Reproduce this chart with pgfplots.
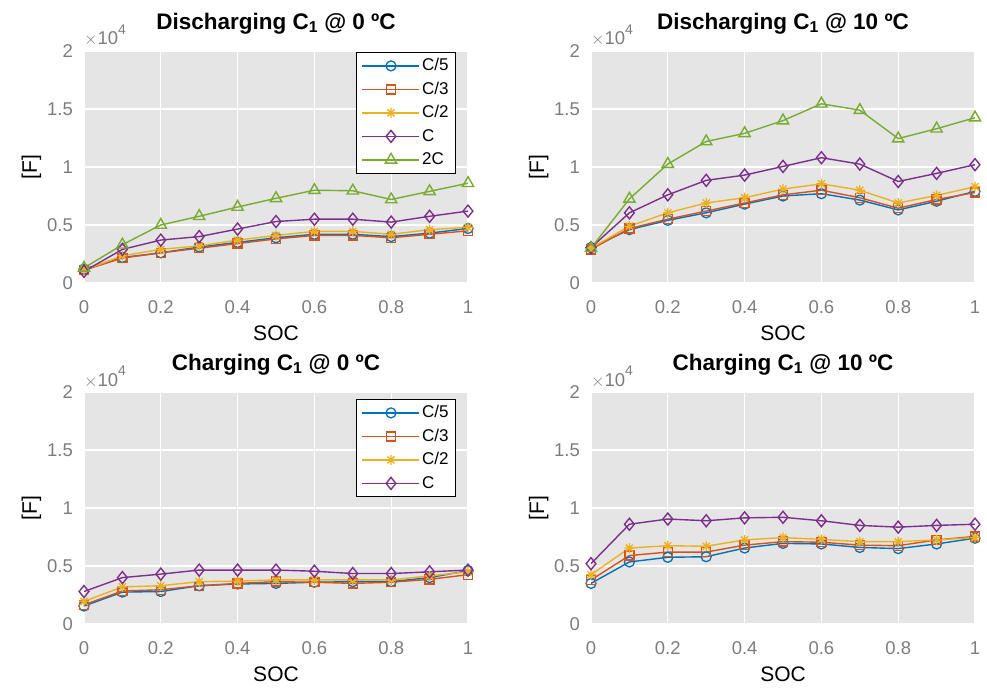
\documentclass[border=0pt]{standalone}
\usepackage{fontspec}
\setmainfont{Liberation Sans}
\usepackage{pgfplots}
\usepackage{pgfplotstable}
\pgfplotsset{compat=1.18}

\definecolor{mblue}{rgb}{0,0.447,0.741}
\definecolor{morange}{rgb}{0.850,0.325,0.098}
\definecolor{myellow}{rgb}{0.929,0.694,0.125}
\definecolor{mpurple}{rgb}{0.494,0.184,0.556}
\definecolor{mgreen}{rgb}{0.466,0.674,0.188}
\definecolor{bgc}{RGB}{229,229,229}
\definecolor{tickc}{RGB}{125,125,125}

% MATLAB-style asterisk: a plus and a cross on top of each other
\pgfdeclareplotmark{mstar}{%
  \pgfpathmoveto{\pgfqpoint{-\pgfplotmarksize}{0pt}}%
  \pgfpathlineto{\pgfqpoint{\pgfplotmarksize}{0pt}}%
  \pgfpathmoveto{\pgfqpoint{0pt}{-\pgfplotmarksize}}%
  \pgfpathlineto{\pgfqpoint{0pt}{\pgfplotmarksize}}%
  \pgfpathmoveto{\pgfqpoint{-0.707\pgfplotmarksize}{-0.707\pgfplotmarksize}}%
  \pgfpathlineto{\pgfqpoint{0.707\pgfplotmarksize}{0.707\pgfplotmarksize}}%
  \pgfpathmoveto{\pgfqpoint{-0.707\pgfplotmarksize}{0.707\pgfplotmarksize}}%
  \pgfpathlineto{\pgfqpoint{0.707\pgfplotmarksize}{-0.707\pgfplotmarksize}}%
  \pgfusepathqstroke}

% Capacitance C1 [F] versus SOC
\pgfplotstableread{
soc  c5    c3    c2    c1    c2c
0    1200  1100  1100  1000  1300
0.1  2200  2150  2350  2900  3300
0.2  2600  2600  2900  3700  5000
0.3  3100  3000  3200  4000  5750
0.4  3500  3400  3700  4650  6550
0.5  3900  3800  4100  5300  7300
0.6  4200  4100  4450  5500  8000
0.7  4200  4100  4450  5500  7950
0.8  4000  3900  4200  5250  7200
0.9  4300  4200  4600  5750  7900
1.0  4700  4500  4800  6200  8600
}\dischzero
\pgfplotstableread{
soc  c5    c3    c2    c1     c2c
0    3050  2900  3000  3050   3000
0.1  4600  4700  4900  6050   7250
0.2  5400  5500  6050  7600   10250
0.3  6050  6200  6900  8850   12200
0.4  6800  6900  7350  9300   12900
0.5  7500  7600  8100  10050  14000
0.6  7700  8000  8550  10800  15450
0.7  7150  7350  8000  10250  14900
0.8  6300  6450  6900  8750   12450
0.9  7050  7200  7550  9450   13300
1.0  7900  7800  8300  10200  14250
}\dischten
\pgfplotstableread{
soc  c5    c3    c2    c1
0    1550  1650  1950  2800
0.1  2750  2850  3200  4000
0.2  2800  2950  3300  4300
0.3  3300  3300  3650  4650
0.4  3450  3500  3700  4650
0.5  3500  3650  3800  4650
0.6  3600  3600  3800  4550
0.7  3650  3500  3800  4350
0.8  3650  3600  3800  4350
0.9  4000  3850  4150  4500
1.0  4600  4250  4500  4650
}\chzero
\pgfplotstableread{
soc  c5    c3    c2    c1
0    3500  3800  4250  5200
0.1  5350  5900  6550  8600
0.2  5750  6200  6750  9050
0.3  5800  6200  6700  8900
0.4  6550  6800  7250  9150
0.5  6950  7100  7450  9200
0.6  6900  7050  7300  8900
0.7  6600  6800  7100  8500
0.8  6500  6750  7100  8350
0.9  6900  7250  7250  8500
1.0  7400  7550  7450  8600
}\chten

\pgfplotsset{
  panel/.style={
    scale only axis, width=384pt, height=232pt,
    xmin=0, xmax=1, ymin=0, ymax=20000,
    xtick={0,0.2,0.4,0.6,0.8,1},
    ytick={0,5000,10000,15000,20000},
    yticklabels={0,0.5,1,1.5,2},
    scaled y ticks=false,
    /pgf/number format/assume math mode=true,
    grid=major,
    grid style={white, line width=1.3pt},
    axis background/.style={fill=bgc},
    axis line style={draw=none},
    major tick length=0pt,
    tick label style={font=\fontsize{18.5}{19}\selectfont, text=tickc, inner sep=0pt},
    xticklabel style={anchor=base, yshift=-30pt},
    yticklabel style={anchor=east, xshift=-11pt},
    xlabel={SOC}, ylabel={[F]},
    every axis x label/.style={at={(axis description cs:0.5,-0.2457)}, anchor=base,
      font=\fontsize{21}{21}\selectfont, inner sep=0pt},
    every axis y label/.style={at={(axis description cs:-0.1224,0.5)}, anchor=base,
      rotate=90, font=\fontsize{21}{21}\selectfont, inner sep=0pt},
    every axis title/.style={at={(axis description cs:0.5,1.0948)}, anchor=base,
      font=\bfseries\fontsize{22.5}{23}\selectfont, inner sep=0pt},
    every axis plot/.append style={line width=1.4pt, mark size=5pt,
      mark options={solid, line width=1.3pt}},
    legend cell align=left,
    legend style={draw=black, line width=0.9pt, fill=white,
      font=\fontsize{17}{17}\selectfont,
      inner xsep=5pt, inner ysep=3.5pt, row sep=3.5pt,
      nodes={inner sep=2pt, text height=13pt, text depth=3pt}},
    legend image code/.code={%
      \draw[mark repeat=2, mark phase=2, #1]
        plot coordinates {(0pt,0pt) (28.5pt,0pt) (57pt,0pt)};},
    after end axis/.code={%
      \node[anchor=base west, inner sep=0pt, text=tickc,
            font=\fontsize{18.5}{19}\selectfont]
        at ([yshift=6pt]rel axis cs:0,1)
        {$\times$10\raisebox{0.55em}{\fontsize{14}{14}\selectfont 4}};},
  },
  sC5/.style={mblue, mark=o},
  sC3/.style={morange, mark=square, mark options={scale=0.9}},
  sC2/.style={myellow, mark=mstar},
  sC1/.style={mpurple, mark=diamond, mark options={xscale=1.3, yscale=1.2}},
  s2C/.style={mgreen, mark=triangle, mark options={scale=1.3}},
}

\begin{document}
\begin{tikzpicture}
\path[use as bounding box] (0,0) rectangle (987pt,689pt);

\begin{axis}[panel, at={(84pt,406pt)}, anchor=south west,
  title={Discharging C\textsubscript{1} @ 0 ºC},
  legend style={at={(rel axis cs:0.969,0.996)}, anchor=north east}]
  \addplot[sC5] table[x=soc, y=c5] {\dischzero};
  \addplot[sC3] table[x=soc, y=c3] {\dischzero};
  \addplot[sC2] table[x=soc, y=c2] {\dischzero};
  \addplot[sC1] table[x=soc, y=c1] {\dischzero};
  \addplot[s2C] table[x=soc, y=c2c] {\dischzero};
  \legend{C/5, C/3, C/2, C, 2C}
\end{axis}

\begin{axis}[panel, at={(591pt,406pt)}, anchor=south west,
  title={Discharging C\textsubscript{1} @ 10 ºC}]
  \addplot[sC5] table[x=soc, y=c5] {\dischten};
  \addplot[sC3] table[x=soc, y=c3] {\dischten};
  \addplot[sC2] table[x=soc, y=c2] {\dischten};
  \addplot[sC1] table[x=soc, y=c1] {\dischten};
  \addplot[s2C] table[x=soc, y=c2c] {\dischten};
\end{axis}

\begin{axis}[panel, at={(84pt,65pt)}, anchor=south west,
  title={Charging C\textsubscript{1} @ 0 ºC},
  legend style={at={(rel axis cs:0.969,0.97)}, anchor=north east}]
  \addplot[sC5] table[x=soc, y=c5] {\chzero};
  \addplot[sC3] table[x=soc, y=c3] {\chzero};
  \addplot[sC2] table[x=soc, y=c2] {\chzero};
  \addplot[sC1] table[x=soc, y=c1] {\chzero};
  \legend{C/5, C/3, C/2, C}
\end{axis}

\begin{axis}[panel, at={(591pt,65pt)}, anchor=south west,
  title={Charging C\textsubscript{1} @ 10 ºC}]
  \addplot[sC5] table[x=soc, y=c5] {\chten};
  \addplot[sC3] table[x=soc, y=c3] {\chten};
  \addplot[sC2] table[x=soc, y=c2] {\chten};
  \addplot[sC1] table[x=soc, y=c1] {\chten};
\end{axis}
\end{tikzpicture}
\end{document}
